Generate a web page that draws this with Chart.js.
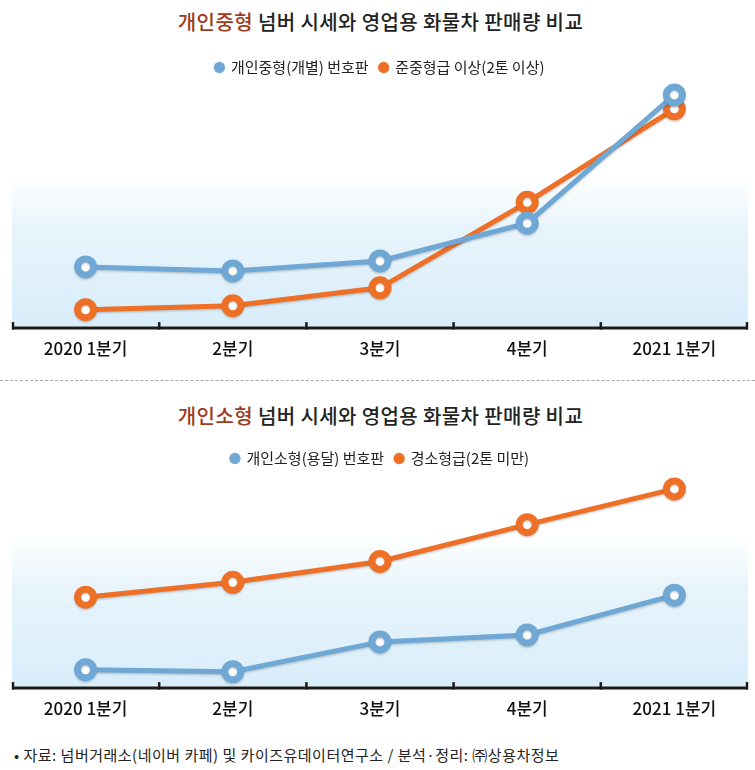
<!DOCTYPE html>
<html>
<head>
<meta charset="utf-8">
<script src="https://cdn.jsdelivr.net/npm/chart.js@4"></script>
<style>
  html, body { margin:0; padding:0; background:#fff; }
  body { width:755px; height:770px; position:relative; overflow:hidden; font-family:"Noto Sans CJK KR","Noto Sans",sans-serif; }
  .title { position:absolute; left:3px; width:755px; text-align:center; font-size:20px; font-weight:500; color:#222; letter-spacing:0.4px; }
  .title .hl { color:#9c3b1e; }
  .wrap { position:absolute; left:0; width:755px; }
  .sep { position:absolute; left:0; width:755px; top:380px; border-top:1.5px dashed #a8a8a8; }
  .note { position:absolute; left:14px; top:744px; font-size:15px; color:#222; letter-spacing:0.5px; }
</style>
</head>
<body>
<div class="title" style="top:7px;"><span class="hl">개인중형</span> 넘버 시세와 영업용 화물차 판매량 비교</div>
<div class="wrap" style="top:49px;height:331px;"><canvas id="c1"></canvas></div>
<div class="sep"></div>
<div class="title" style="top:401px;"><span class="hl">개인소형</span> 넘버 시세와 영업용 화물차 판매량 비교</div>
<div class="wrap" style="top:440px;height:297px;"><canvas id="c2"></canvas></div>
<div class="note">• 자료: 넘버거래소(네이버 카페) 및 카이즈유데이터연구소 / 분석·정리: ㈜상용차정보</div>
<script>
// Categories (quarters)
const categories = ['2020 1분기', '2분기', '3분기', '4분기', '2021 1분기'];
// Value labels are blurred in the source; values are relative levels read from the plotted positions.
const midPlatePrice = [60, 56, 66, 104, 233];   // 개인중형(개별) 번호판
const midTruckSales = [17, 21, 39, 125, 219];   // 준중형급 이상(2톤 이상)
const smallPlatePrice = [17, 15, 45, 52, 92];   // 개인소형(용달) 번호판
const smallTruckSales = [90, 105, 126, 163, 199]; // 경소형급(2톤 미만)

const BLUE = '#6fa8d5';
const ORANGE = '#ee6f26';

const bgAxisPlugin = {
  id: 'bgAxis',
  beforeDatasetsDraw(chart, args, opts) {
    const {ctx, chartArea} = chart;
    const top = chartArea.bottom - opts.gradHeight;
    const g = ctx.createLinearGradient(0, top, 0, chartArea.bottom);
    g.addColorStop(0, 'rgba(225,241,250,0)');
    g.addColorStop(0.35, 'rgba(225,241,250,0.8)');
    g.addColorStop(1, 'rgba(216,237,250,1)');
    ctx.save();
    ctx.fillStyle = g;
    ctx.fillRect(chartArea.left, top, chartArea.right - chartArea.left, chartArea.bottom - top);
    ctx.restore();
  },
  afterDraw(chart) {
    const {ctx, chartArea, scales} = chart;
    const x = scales.x;
    const y0 = chartArea.bottom + 1.5;
    ctx.save();
    ctx.strokeStyle = '#1b1b1b';
    ctx.lineWidth = 3;
    ctx.beginPath();
    ctx.moveTo(chartArea.left, y0);
    ctx.lineTo(chartArea.right, y0);
    ctx.stroke();
    ctx.lineWidth = 2.5;
    const n = categories.length;
    const bounds = [chartArea.left + 1];
    for (let i = 1; i < n; i++) bounds.push((x.getPixelForValue(i - 1) + x.getPixelForValue(i)) / 2);
    bounds.push(chartArea.right - 1);
    bounds.forEach(bx => {
      ctx.beginPath();
      ctx.moveTo(bx, y0 - 6);
      ctx.lineTo(bx, y0 + 1.5);
      ctx.stroke();
    });
    ctx.restore();
  }
};

const shadowPlugin = {
  id: 'shadow',
  beforeDatasetDraw(chart) {
    chart.ctx.save();
    chart.ctx.shadowColor = 'rgba(0,0,0,0.18)';
    chart.ctx.shadowBlur = 2;
    chart.ctx.shadowOffsetY = 1.5;
  },
  afterDatasetDraw(chart) { chart.ctx.restore(); }
};

function makeChart(id, s1label, s1, s2label, s2, ymax, gradHeight, bottomPad) {
  return new Chart(document.getElementById(id), {
    type: 'line',
    data: {
      labels: categories,
      datasets: [
        { label: s1label, data: s1, borderColor: BLUE, backgroundColor: BLUE,
          pointBackgroundColor: '#fff', pointBorderColor: BLUE,
          borderWidth: 5, pointRadius: 8, pointBorderWidth: 7, pointHoverRadius: 8,
          tension: 0, clip: false, fill: false },
        { label: s2label, data: s2, borderColor: ORANGE, backgroundColor: ORANGE,
          pointBackgroundColor: '#fff', pointBorderColor: ORANGE,
          borderWidth: 5, pointRadius: 8, pointBorderWidth: 7, pointHoverRadius: 8,
          tension: 0, clip: false, fill: false }
      ]
    },
    options: {
      responsive: true,
      maintainAspectRatio: false,
      animation: false,
      events: [],
      layout: { autoPadding: false, padding: { left: 12, right: 7, top: 0, bottom: bottomPad } },
      plugins: {
        legend: {
          display: true,
          position: 'top',
          labels: {
            usePointStyle: true,
            pointStyle: 'circle',
            boxWidth: 8, boxHeight: 8,
            padding: 11,
            color: '#222',
            font: { family: '"Noto Sans CJK KR"', size: 15 },
            generateLabels(chart) {
              const items = Chart.defaults.plugins.legend.labels.generateLabels(chart);
              items.forEach((it) => {
                const c = chart.data.datasets[it.datasetIndex].borderColor;
                it.fillStyle = c; it.lineWidth = 0; it.strokeStyle = c;
              });
              return items;
            }
          }
        },
        tooltip: { enabled: false },
        bgAxis: { gradHeight: gradHeight }
      },
      scales: {
        x: {
          type: 'category',
          offset: true,
          grid: { display: false, drawTicks: false },
          border: { display: false },
          ticks: { color: '#111', padding: 12, font: { family: '"Noto Sans CJK KR"', size: 17, weight: 500 } }
        },
        y: { display: false, min: 0, max: ymax }
      }
    },
    plugins: [bgAxisPlugin, shadowPlugin]
  });
}

makeChart('c1', '개인중형(개별) 번호판', midPlatePrice, '준중형급 이상(2톤 이상)', midTruckSales, 243, 150, 9);
makeChart('c2', '개인소형(용달) 번호판', smallPlatePrice, '경소형급(2톤 미만)', smallTruckSales, 212, 150, 6);
</script>
</body>
</html>
